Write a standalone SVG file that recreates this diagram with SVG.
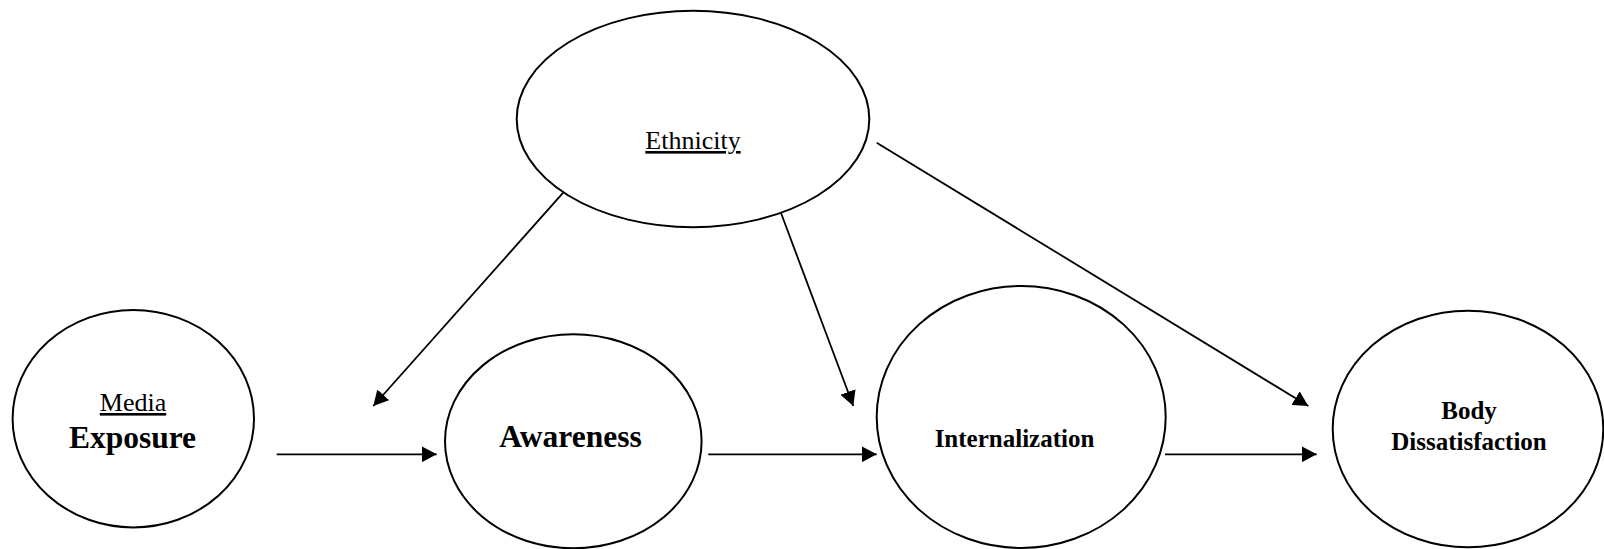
<svg xmlns="http://www.w3.org/2000/svg" width="1604" height="549" viewBox="0 0 1604 549">
  <style>
    .node { fill: #ffffff; stroke: #000000; stroke-width: 2; }
    .conn { stroke: #000000; stroke-width: 1.8; fill: none; }
    .reg { font-family: "Liberation Serif", "Times New Roman", serif; font-size: 26px; fill: #000; text-anchor: middle; }
    .u { text-decoration: underline; }
    .big { font-family: "Liberation Serif", "Times New Roman", serif; font-size: 31.5px; font-weight: bold; fill: #000; text-anchor: middle; }
    .med { font-family: "Liberation Serif", "Times New Roman", serif; font-size: 25px; font-weight: bold; fill: #000; text-anchor: middle; }
  </style>
  <defs>
    <marker id="arrow" viewBox="0 0 15 16" refX="15" refY="8" markerWidth="15" markerHeight="16" markerUnits="userSpaceOnUse" orient="auto">
      <path d="M0,0 L15,8 L0,16 Z" fill="#000000"/>
    </marker>
  </defs>
  <rect x="0" y="0" width="1604" height="549" fill="#ffffff"/>

  <g id="connectors">
    <line class="conn" x1="276.7" y1="454.3" x2="436.7" y2="454.3" marker-end="url(#arrow)"/>
    <line class="conn" x1="708.3" y1="454.3" x2="876.7" y2="454.3" marker-end="url(#arrow)"/>
    <line class="conn" x1="1165" y1="454.3" x2="1316.7" y2="454.3" marker-end="url(#arrow)"/>
    <line class="conn" x1="565" y1="190.7" x2="373.3" y2="406" marker-end="url(#arrow)"/>
    <line class="conn" x1="781" y1="213" x2="853.3" y2="406" marker-end="url(#arrow)"/>
    <line class="conn" x1="876.7" y1="142.7" x2="1308.3" y2="406" marker-end="url(#arrow)"/>
  </g>

  <g id="node-ethnicity">
    <ellipse class="node" cx="693" cy="119" rx="176.3" ry="108.2"/>
    <text class="reg u" x="693" y="149">Ethnicity</text>
  </g>

  <g id="node-media-exposure">
    <ellipse class="node" cx="133.3" cy="418.7" rx="120.7" ry="108.7"/>
    <text class="reg u" x="133" y="411">Media</text>
    <text class="big" x="132.5" y="447.5">Exposure</text>
  </g>

  <g id="node-awareness">
    <ellipse class="node" cx="573.3" cy="441.3" rx="128.3" ry="107"/>
    <text class="big" x="570.5" y="446.7">Awareness</text>
  </g>

  <g id="node-internalization">
    <ellipse class="node" cx="1021.2" cy="417" rx="144.5" ry="131"/>
    <text class="med" x="1014.5" y="446.7">Internalization</text>
  </g>

  <g id="node-body-dissatisfaction">
    <ellipse class="node" cx="1468" cy="429" rx="135.3" ry="118.3"/>
    <text class="med" x="1469" y="419.3">Body</text>
    <text class="med" x="1469" y="450">Dissatisfaction</text>
  </g>
</svg>
